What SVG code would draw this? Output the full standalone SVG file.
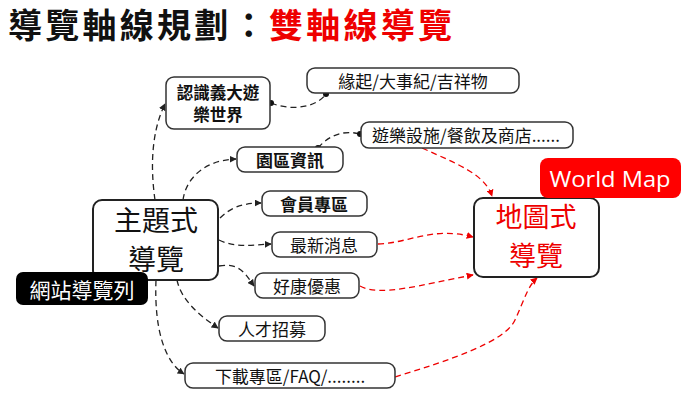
<svg xmlns="http://www.w3.org/2000/svg" width="685" height="395" viewBox="0 0 685 395">
<style>
text{font-family:"Noto Sans CJK TC","Noto Sans",sans-serif;text-anchor:middle;dominant-baseline:central;}
.box{fill:#fff;stroke:#333;stroke-width:1.5;}
.big{stroke:#222;stroke-width:2;}
.t{font-size:17px;fill:#111;}
.b{font-weight:bold;}
.k{fill:none;stroke:#222;stroke-width:1.3;stroke-dasharray:6 4;}
.r{fill:none;stroke:#e00;stroke-width:1.3;stroke-dasharray:6 4;}
</style>
<defs>
<marker id="ak" viewBox="0 0 10 10" refX="9" refY="5" markerWidth="7" markerHeight="7" markerUnits="userSpaceOnUse" orient="auto"><path d="M0,0L10,5L0,10z" fill="#222"/></marker>
<marker id="ar" viewBox="0 0 10 10" refX="9" refY="5" markerWidth="7" markerHeight="7" markerUnits="userSpaceOnUse" orient="auto"><path d="M0,0L10,5L0,10z" fill="#e00"/></marker>
<marker id="dot" viewBox="0 0 10 10" refX="5" refY="5" markerWidth="6" markerHeight="6" markerUnits="userSpaceOnUse"><circle cx="5" cy="5" r="5" fill="#111"/></marker>
</defs>
<text x="8" y="23" textLength="444" lengthAdjust="spacing" style="text-anchor:start;font-size:34px;font-weight:bold"><tspan fill="#111">導覽軸線規劃：</tspan><tspan fill="#e00">雙軸線導覽</tspan></text>
<g id="connectors">
<path class="k" d="M155,200 C150,165 152,130 165,104" marker-end="url(#ak)"/>
<path class="k" d="M183,200 C186,178 205,160 236,159" marker-end="url(#ak)"/>
<path class="k" d="M220,218 C230,208 242,203 261,203" marker-end="url(#ak)"/>
<path class="k" d="M219,240 C235,248 252,245 271,244" marker-end="url(#ak)"/>
<path class="k" d="M219,266 C240,262 246,275 254,286" marker-end="url(#ak)"/>
<path class="k" d="M177,280 C181,300 200,316 218,328" marker-end="url(#ak)"/>
<path class="k" d="M156,280 C154,330 165,362 184,374" marker-end="url(#ak)"/>
<path class="k" d="M271,103 C290,111 316,108 326,94" marker-start="url(#dot)" marker-end="url(#dot)"/>
<path class="k" d="M318,148 C330,134 345,130 360,134" marker-start="url(#dot)" marker-end="url(#dot)"/>
<path class="r" d="M422,148 C460,165 485,175 492,196" marker-end="url(#ar)"/>
<path class="r" d="M378,244 C410,243 432,226 473,237" marker-end="url(#ar)"/>
<path class="r" d="M360,286 C380,297 420,285 473,275" marker-end="url(#ar)"/>
<path class="r" d="M395,377 C450,360 505,342 515,320 C525,298 528,286 537,278" marker-end="url(#ar)"/>
</g>
<g id="n-main"><rect class="box big" x="93" y="200" width="125" height="80" rx="9"/><text x="156" y="219" style="font-size:28px" fill="#111">主題式</text><text x="156" y="258" style="font-size:28px" fill="#111">導覽</text></g>
<g id="n-nav"><rect x="16" y="272" width="132" height="33" rx="7" fill="#000"/><text x="82" y="288.5" style="font-size:21px" fill="#fff">網站導覽列</text></g>
<g id="n-intro"><rect class="box" x="166" y="77" width="104" height="52" rx="8"/><text class="b" x="218" y="92" style="font-size:16.5px" fill="#111">認識義大遊</text><text class="b" x="218" y="114" style="font-size:16.5px" fill="#111">樂世界</text></g>
<g id="n-origin"><rect class="box" x="307" y="68" width="212" height="25" rx="8"/><text class="t" x="413" y="80.5">緣起/大事紀/吉祥物</text></g>
<g id="n-facility"><rect class="box" x="361" y="122" width="212" height="26" rx="8"/><text class="t" x="466" y="134.5">遊樂設施/餐飲及商店......</text></g>
<g id="n-park"><rect class="box" x="237" y="147" width="106" height="25" rx="8"/><text class="t b" x="290" y="159.5">園區資訊</text></g>
<g id="n-member"><rect class="box" x="262" y="191" width="105" height="25" rx="8"/><text class="t b" x="314" y="203.5">會員專區</text></g>
<g id="n-news"><rect class="box" x="272" y="232" width="105" height="25" rx="8"/><text class="t" x="324" y="244.5">最新消息</text></g>
<g id="n-deal"><rect class="box" x="255" y="273" width="104" height="25" rx="8"/><text class="t" x="307" y="285.5">好康優惠</text></g>
<g id="n-job"><rect class="box" x="219" y="316" width="106" height="25" rx="8"/><text class="t" x="272" y="328.5">人才招募</text></g>
<g id="n-download"><rect class="box" x="185" y="363" width="210" height="25" rx="8"/><text class="t" x="290" y="375.5">下載專區/FAQ/........</text></g>
<g id="n-map"><rect class="box big" x="474" y="198" width="125" height="79" rx="9"/><text x="536" y="215" style="font-size:27px" fill="#e00">地圖式</text><text x="536" y="254" style="font-size:27px" fill="#e00">導覽</text></g>
<g id="n-world"><rect x="540" y="158" width="141" height="40" rx="8" fill="#f00"/><text x="610" y="178" style="font-size:22px;font-family:'Open Sans','Noto Sans',sans-serif" fill="#fff" textLength="121" lengthAdjust="spacingAndGlyphs">World Map</text></g>
</svg>
